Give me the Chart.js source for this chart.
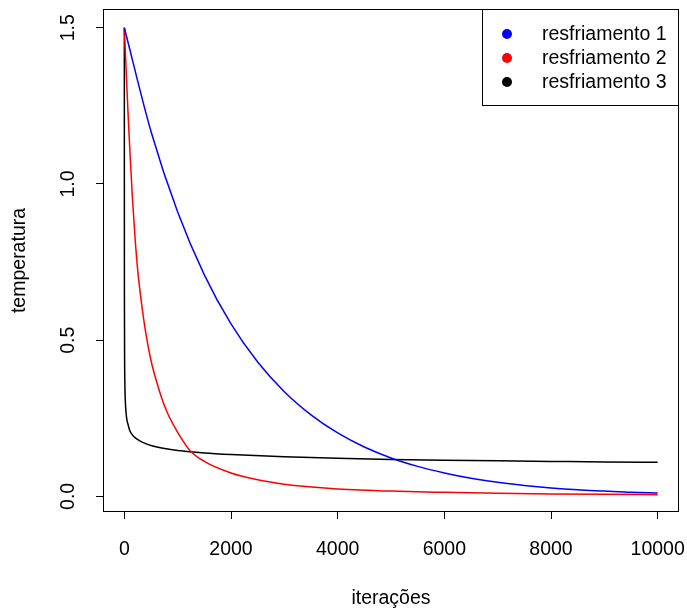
<!DOCTYPE html>
<html>
<head>
<meta charset="utf-8">
<script src="https://cdn.jsdelivr.net/npm/chart.js@4.4.1/dist/chart.umd.min.js"></script>
<style>
  body { margin: 0; background: #fff; }
  #wrap { width: 687px; height: 608px; }
</style>
</head>
<body>
<div id="wrap"><canvas id="myChart" width="687" height="608"></canvas></div>
<script>
// values
const seriesNames = ['resfriamento 1', 'resfriamento 2', 'resfriamento 3'];
const seriesColors = ['#0000FF', '#FF0000', '#000000'];

const blueIter = [0, 500, 1000, 1500, 2000, 2500, 3000, 3500, 4000, 4500, 5000,
                  5500, 6000, 6500, 7000, 7500, 8000, 8500, 9000, 9500, 10000];
const blueTemp = [1.5, 1.168, 0.910, 0.709, 0.552, 0.430, 0.335, 0.261, 0.203, 0.158, 0.123,
                  0.096, 0.075, 0.058, 0.045, 0.035, 0.027, 0.021, 0.017, 0.013, 0.011];

const redIter = [0, 25, 50, 75, 100, 150, 200, 250, 325, 400, 500, 600, 700, 800, 900, 1000,
                 1225, 1500, 2000, 2500, 3000, 3300, 4000, 5000, 6000, 7000, 8000, 9000, 10000];
const redTemp = [1.5, 1.40, 1.30, 1.206, 1.12, 0.96, 0.83, 0.725, 0.615, 0.525, 0.435, 0.37, 0.315, 0.27, 0.235, 0.205,
                 0.148, 0.112, 0.075, 0.053, 0.039, 0.033, 0.024, 0.017, 0.013, 0.010, 0.008, 0.0065, 0.0055];

const blackIter = [0, 1, 2, 5, 10, 20, 40, 70, 100, 150, 200, 300, 400, 500, 700, 1000,
                   1500, 2000, 3000, 4000, 5000, 6000, 7000, 8000, 9000, 10000];
const blackTemp = [1.5, 0.78, 0.62, 0.45, 0.36, 0.30, 0.255, 0.23, 0.212, 0.197, 0.188, 0.177, 0.169, 0.163, 0.155, 0.147,
                   0.139, 0.134, 0.127, 0.122, 0.118, 0.116, 0.114, 0.112, 0.110, 0.109];

const xTicks = [0, 2000, 4000, 6000, 8000, 10000];
const yTicks = [0, 0.5, 1, 1.5];
const yTickLabels = ['0.0', '0.5', '1.0', '1.5'];

const FONT = 'Liberation Sans, Arial, Helvetica, sans-serif';
const FS = 19.5;

function pts(xs, ys) {
    return xs.map((x, i) => ({ x: x, y: ys[i] }));
}

// plot frame + legend, drawn like base R
const rFrame = {
    id: 'rFrame',
    afterDraw(chart) {
        const ctx = chart.ctx;
        const a = chart.chartArea;
        ctx.save();
        ctx.strokeStyle = '#000';
        ctx.lineWidth = 1;
        ctx.strokeRect(a.left + 0.5, a.top + 0.5, a.right - a.left - 1, a.bottom - a.top - 1);

        // legend, top right
        const lw = 197, lh = 97;
        const lx = a.right - lw, ly = a.top;
        ctx.fillStyle = '#fff';
        ctx.fillRect(lx, ly, lw, lh);
        ctx.strokeRect(lx + 0.5, ly + 0.5, lw - 1, lh - 1);
        ctx.font = FS + 'px ' + FONT;
        ctx.textBaseline = 'middle';
        ctx.textAlign = 'left';
        chart.data.datasets.forEach((ds, i) => {
            const cy = ly + 25 + i * 24;
            ctx.fillStyle = ds.borderColor;
            ctx.beginPath();
            ctx.arc(lx + 25, cy, 5, 0, Math.PI * 2);
            ctx.fill();
            ctx.fillStyle = '#000';
            ctx.fillText(ds.label, lx + 60, cy + 1);
        });
        ctx.restore();
    }
};

const datasets = [pts(blueIter, blueTemp), pts(redIter, redTemp), pts(blackIter, blackTemp)]
    .map((d, i) => ({
        label: seriesNames[i],
        data: d,
        borderColor: seriesColors[i],
        backgroundColor: seriesColors[i],
        borderWidth: 1.5,
        pointRadius: 0,
        cubicInterpolationMode: 'monotone',
        fill: false
    }));

const ctx = document.getElementById('myChart').getContext('2d');
const myChart = new Chart(ctx, {
    type: 'line',
    data: { datasets: datasets },
    plugins: [rFrame],
    options: {
        responsive: false,
        animation: false,
        layout: { padding: { left: 0, right: 8, top: 9, bottom: 0 } },
        plugins: {
            legend: { display: false },
            tooltip: { enabled: false }
        },
        scales: {
            x: {
                type: 'linear',
                min: -400,
                max: 10400,
                afterFit(scale) {
                    scale.height = 96;
                    scale.paddingLeft = 0;
                    scale.paddingRight = 0;
                },
                afterBuildTicks(scale) { scale.ticks = xTicks.map(v => ({ value: v })); },
                grid: { drawOnChartArea: false, drawTicks: true, tickLength: 7, color: '#000', tickColor: '#000', lineWidth: 1 },
                border: { display: false },
                ticks: {
                    color: '#000',
                    padding: 19,
                    maxRotation: 0,
                    autoSkip: false,
                    font: { family: FONT, size: FS },
                    callback: v => String(v)
                },
                title: {
                    display: true,
                    text: 'iterações',
                    color: '#000',
                    font: { family: FONT, size: FS },
                    padding: { top: 0, bottom: -2 }
                }
            },
            y: {
                type: 'linear',
                min: -0.05,
                max: 1.56,
                afterFit(scale) {
                    scale.width = 103;
                    scale.paddingTop = 0;
                    scale.paddingBottom = 0;
                },
                afterBuildTicks(scale) { scale.ticks = yTicks.map(v => ({ value: v })); },
                grid: { drawOnChartArea: false, drawTicks: true, tickLength: 7, color: '#000', tickColor: '#000', lineWidth: 1 },
                border: { display: false },
                ticks: {
                    color: '#000',
                    padding: 14,
                    minRotation: 90,
                    maxRotation: 90,
                    crossAlign: 'center',
                    autoSkip: false,
                    font: { family: FONT, size: FS },
                    callback: (v) => yTickLabels[yTicks.indexOf(v)]
                },
                title: {
                    display: true,
                    text: 'temperatura',
                    color: '#000',
                    font: { family: FONT, size: FS },
                    padding: { top: 8, bottom: 0 }
                }
            }
        }
    }
});
</script>
</body>
</html>
